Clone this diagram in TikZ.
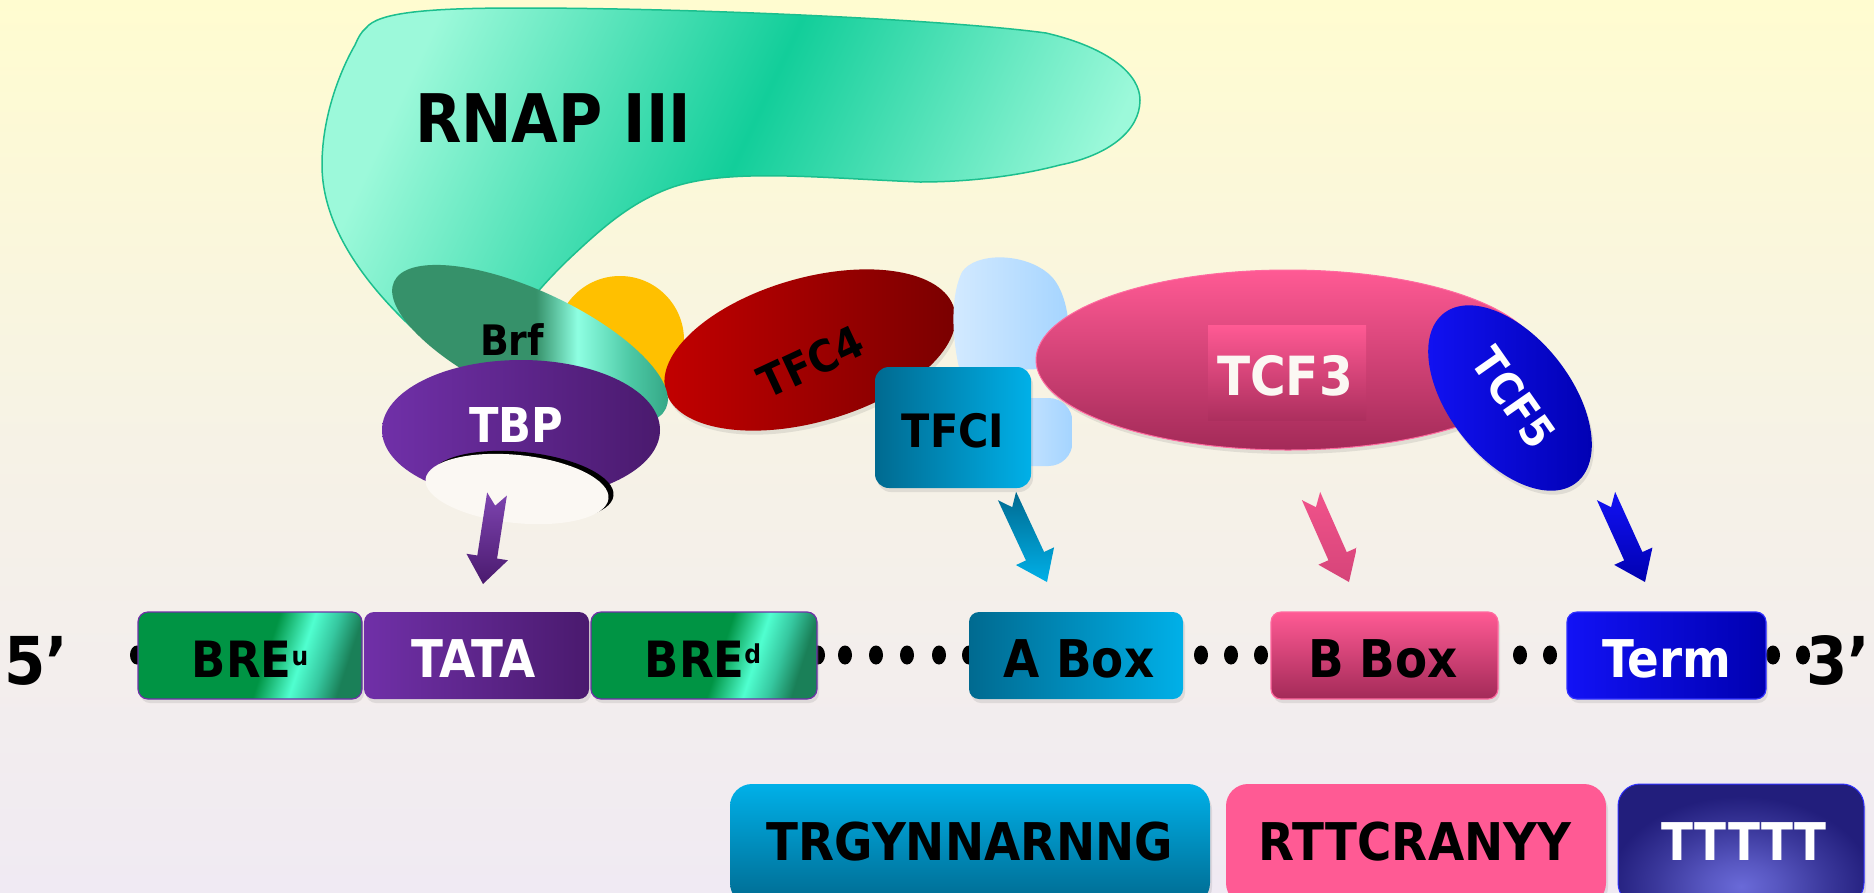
\documentclass[tikz,border=0pt]{standalone}
\usepackage{fontspec}
\setmainfont{DejaVu Sans Condensed}
\usetikzlibrary{calc,shapes.geometric,shadows}

% palette
\definecolor{bgtop}{HTML}{FFFCD0}
\definecolor{bgmid}{HTML}{F6F2E6}
\definecolor{bgbot}{HTML}{F0EAF3}
\definecolor{rnapdark}{HTML}{12CE9A}
\definecolor{rnaplight}{HTML}{9CF9DA}
\definecolor{rnapline}{HTML}{1CBF8E}
\definecolor{brfdark}{HTML}{36916A}
\definecolor{brfhi}{HTML}{8EFFE2}
\definecolor{brfmid}{HTML}{4CC8A4}
\definecolor{brfend}{HTML}{2E9E7E}
\definecolor{yel}{HTML}{FFC000}
\definecolor{redL}{HTML}{C40000}
\definecolor{redR}{HTML}{780000}
\definecolor{lbL}{HTML}{D4EAFF}
\definecolor{lbR}{HTML}{A4D4FF}
\definecolor{tealD}{HTML}{006A90}
\definecolor{tealL}{HTML}{00B0E8}
\definecolor{pinkT}{HTML}{FF5A94}
\definecolor{pinkB}{HTML}{A32A58}
\definecolor{pinkline}{HTML}{FF6AA0}
\definecolor{bluL}{HTML}{1212F5}
\definecolor{bluR}{HTML}{0000B0}
\definecolor{bluline}{HTML}{3030FF}
\definecolor{purL}{HTML}{7030A8}
\definecolor{purR}{HTML}{4A1A6E}
\definecolor{greenD}{HTML}{009444}
\definecolor{greenH}{HTML}{50FFD0}
\definecolor{greenM}{HTML}{36C8A0}
\definecolor{greenE}{HTML}{1A8058}
\definecolor{navy}{HTML}{221E7C}
\definecolor{navyglow}{HTML}{6A6AD8}
\definecolor{eggwhite}{HTML}{FBF8F3}

\pgfdeclarehorizontalshading{brfshade}{100bp}{color(0bp)=(brfdark); color(25bp)=(brfdark);
  color(51bp)=(brfdark); color(58bp)=(brfhi); color(67bp)=(brfmid); color(75bp)=(brfend); color(100bp)=(brfend)}
\pgfdeclarehorizontalshading{breshade}{100bp}{color(0bp)=(greenD); color(25bp)=(greenD);
  color(54bp)=(greenD); color(63bp)=(greenH); color(69bp)=(greenM); color(75bp)=(greenE); color(100bp)=(greenE)}
% light at both sides, deepest green in the middle
\pgfdeclarehorizontalshading{rnapshade}{100bp}{color(0bp)=(rnaplight); color(25bp)=(rnaplight);
  color(50bp)=(rnapdark); color(75bp)=(rnaplight); color(100bp)=(rnaplight)}
% soft glow that fades into the navy background
\pgfdeclareradialshading{navyglowshade}{\pgfpoint{0bp}{0bp}}{color(0bp)=(navyglow);
  color(6bp)=(navyglow!75!navy); color(14bp)=(navyglow!35!navy); color(22bp)=(navy); color(50bp)=(navy)}

\newcommand\lblfont[1]{\fontsize{#1}{#1}\selectfont\bfseries}

% block arrow with a notched tail, from tail coordinate #1 to tip coordinate #2
\newcommand\notcharrow[3]{%
  \coordinate (#1-h) at ($(#1)!0.7!(#2)$);
  \coordinate (#1-n) at ($(#1)!0.13!(#2)$);
  \path[#3] ($(#1)!10pt!90:(#2)$) -- ($(#1-h)!10pt!90:(#2)$) -- ($(#1-h)!21pt!90:(#2)$)
    -- (#2) -- ($(#1-h)!21pt!-90:(#2)$) -- ($(#1-h)!10pt!-90:(#2)$)
    -- ($(#1)!10pt!-90:(#2)$) -- (#1-n) -- cycle;}

\begin{document}
\begin{tikzpicture}[x=1pt,y=-1pt,
  blob/.style={ellipse, inner sep=0pt, outer sep=0pt},
  dnabox/.style={rounded corners=10pt, minimum height=87pt, inner sep=0pt, outer sep=0pt},
  seqbox/.style={rounded corners=22pt, minimum height=121pt, inner sep=0pt, outer sep=0pt},
  lbl/.style={inner sep=0pt, anchor=base},
  softshadow/.style={drop shadow={opacity=0.18, shadow xshift=2pt, shadow yshift=-4pt}},
  dnadot/.style={fill=black}]

\useasboundingbox (0,0) rectangle (1874,892);
\clip (0,0) rectangle (1874,892);

% background
\shade[top color=bgtop, bottom color=bgbot, middle color=bgmid] (0,0) rectangle (1874,892);

% RNA polymerase III body
\path[draw=rnapline, line width=1.5pt, shading=rnapshade, shading angle=-25]
  (366,28) .. controls (378,12) and (430,8) .. (520,8)
  .. controls (700,8) and (950,20) .. (1046,33)
  .. controls (1110,48) and (1140,75) .. (1140,100)
  .. controls (1140,130) and (1110,155) .. (1060,165)
  .. controls (1010,178) and (960,182) .. (920,182)
  .. controls (820,178) and (730,168) .. (673,187)
  .. controls (630,202) and (600,230) .. (570,258)
  .. controls (545,282) and (525,305) .. (505,335)
  -- (420,335)
  .. controls (370,290) and (322,230) .. (322,165)
  .. controls (322,110) and (345,62) .. (355,45)
  .. controls (358,38) and (361,32) .. (366,28) -- cycle;
\node[lbl] (rnaplbl) at (553,142) {\lblfont{67}RNAP III};

% yellow subunit
\node[circle, fill=yel, minimum size=128pt, inner sep=0pt] (yellow) at (620,340) {};

% TFC4
\node[blob, rotate=16, minimum width=300pt, minimum height=144pt, left color=redL, right color=redR, softshadow] (tfc4) at (810,350) {};
\node[inner sep=0pt, rotate=25] (tfc4lbl) at (811,362) {\lblfont{44}TFC4};

% Brf
\node[blob, rotate=-25, minimum width=300pt, minimum height=108pt, shading=brfshade] (brf) at (530,345) {};
\node[lbl] (brflbl) at (512,355) {\lblfont{42}Brf};

% TBP with its DNA-binding saddle
\node[blob, minimum width=278pt, minimum height=140pt, left color=purL, right color=purR] (tbp) at (521,430) {};
\node[lbl, text=white] (tbplbl) at (516,442) {\lblfont{48}TBP};
\node[blob, rotate=-6, minimum width=184pt, minimum height=68pt, fill=black] (saddleedge) at (522,486) {};
\node[blob, rotate=-6, minimum width=184pt, minimum height=68pt, fill=eggwhite] (saddle) at (517,489) {};

% light blue subunit
\path[left color=lbL, right color=lbR]
  (960,372) .. controls (950,330) and (952,292) .. (962,272)
  .. controls (975,252) and (1025,252) .. (1050,275)
  .. controls (1068,292) and (1072,330) .. (1068,368)
  -- (960,372) -- cycle;
\node[rounded corners=24pt, minimum width=73pt, minimum height=68pt, inner sep=0pt, left color=lbL, right color=lbR] (lblobe) at (1036,432) {};

% TCF3
\node[blob, minimum width=504pt, minimum height=180pt, top color=pinkT, bottom color=pinkB, draw=pinkline, line width=1pt, softshadow] (tcf3) at (1288,360) {};
\node[minimum width=158pt, minimum height=95pt, inner sep=0pt, top color=pinkT, bottom color=pinkB!90!pinkT] (tcf3box) at (1287,372.5) {};
\node[lbl, text=eggwhite] (tcf3lbl) at (1285,395) {\lblfont{54}TCF3};

% TFCI
\node[rounded corners=14pt, minimum width=156pt, minimum height=121pt, inner sep=0pt, left color=tealD, right color=tealL, softshadow] (tfci) at (953,427.5) {};
\node[lbl] (tfcilbl) at (953,447) {\lblfont{46}TFCI};

% TCF5
\node[blob, rotate=-52, minimum width=215pt, minimum height=122pt, left color=bluL, right color=bluR, softshadow] (tcf5) at (1510,398) {};
\node[inner sep=0pt, text=white] (tcf5lbl) at (1514,398) {\rotatebox{-55}{\lblfont{44}TCF5}};

% binding arrows
\coordinate (tbpT) at (497,494);   \coordinate (tbpP) at (483,584);
\coordinate (tfciT) at (1007,496); \coordinate (tfciP) at (1047,582);
\coordinate (tcf3T) at (1311,496); \coordinate (tcf3P) at (1349,582);
\coordinate (tcf5T) at (1606,496); \coordinate (tcf5P) at (1645,582);
\notcharrow{tbpT}{tbpP}{top color=purL!90!white, bottom color=purR}
\notcharrow{tfciT}{tfciP}{top color=tealD, bottom color=tealL}
\notcharrow{tcf3T}{tcf3P}{top color=pinkT!85!pinkB, bottom color=pinkT!55!pinkB}
\notcharrow{tcf5T}{tcf5P}{top color=bluL, bottom color=bluR}

% DNA strand
\foreach \x in {137,818,845,876,907,939,969,1201,1231,1261,1520,1550,1773,1803}
  \path[dnadot] (\x,655) ellipse [x radius=7, y radius=9.5];

\node[dnabox, minimum width=224pt, shading=breshade, shading angle=-18, draw=purL, line width=1.2pt, softshadow] (breu) at (250,655.5) {};
\node[dnabox, minimum width=225pt, left color=purL, right color=purR, softshadow] (tata) at (476.5,655.5) {};
\node[dnabox, minimum width=226pt, shading=breshade, shading angle=-18, draw=purL, line width=1.2pt, softshadow] (bred) at (704,655.5) {};
\node[dnabox, minimum width=214pt, left color=tealD, right color=tealL, softshadow] (abox) at (1076,655.5) {};
\node[dnabox, minimum width=227pt, top color=pinkT, bottom color=pinkB, draw=pinkline, line width=1.2pt, softshadow] (bbox) at (1384.5,655.5) {};
\node[dnabox, minimum width=199pt, left color=bluL, right color=bluR, draw=bluline, line width=1.2pt, softshadow] (term) at (1666.5,655.5) {};

\node[lbl] (breulbl) at (250,677) {\lblfont{50}BRE\raisebox{12pt}{\lblfont{26}u}};
\node[lbl, text=white] (tatalbl) at (474,677) {\lblfont{52}TATA};
\node[lbl] (bredlbl) at (703,677) {\lblfont{50}BRE\raisebox{14pt}{\lblfont{26}d}};
\node[lbl] (aboxlbl) at (1079,677) {\lblfont{52}A Box};
\node[lbl] (bboxlbl) at (1383,677) {\lblfont{52}B Box};
\node[lbl, text=white] (termlbl) at (1667,677) {\lblfont{52}Term};

\node[lbl] (five) at (36,684) {\lblfont{66}5'};
\node[lbl] (three) at (1838,684) {\lblfont{66}3'};

% consensus sequences
\node[seqbox, minimum width=480pt, top color=tealL, bottom color=tealD, softshadow] (aseq) at (970,844.5) {};
\node[seqbox, minimum width=380pt, fill=pinkT, softshadow] (bseq) at (1416,844.5) {};
\node[seqbox, minimum width=246pt, fill=navy, draw=bluline, line width=1pt, softshadow,
  path picture={\shade[shading=navyglowshade] ($(path picture bounding box.south)+(0,-16)$) ellipse [x radius=150, y radius=100];}] (tseq) at (1741,844.5) {};
\node[lbl] (aseqlbl) at (970,860) {\lblfont{52}TRGYNNARNNG};
\node[lbl] (bseqlbl) at (1415,860) {\lblfont{52}RTTCRANYY};
\node[lbl, text=white] (tseqlbl) at (1744,860) {\lblfont{52}TTTTT};

\end{tikzpicture}
\end{document}
